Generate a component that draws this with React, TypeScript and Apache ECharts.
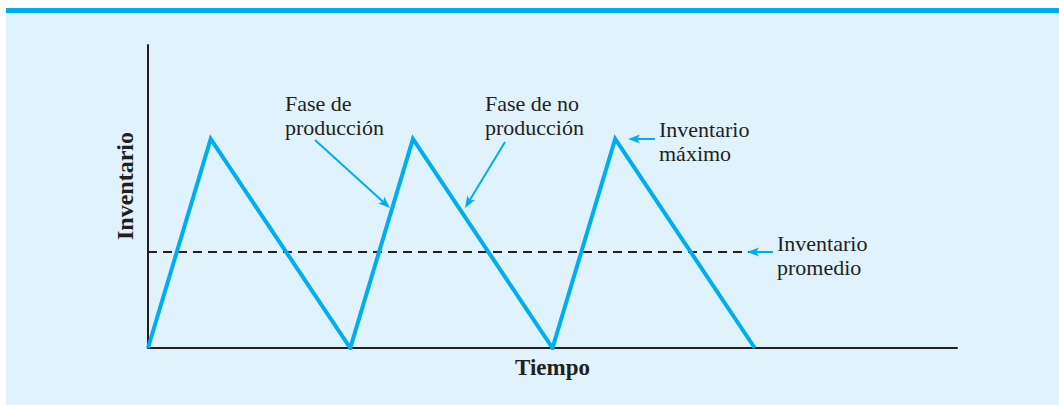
import React, { useEffect, useRef } from "react";
import * as echarts from "echarts";

// Sawtooth inventory profile (time, inventory)
const timePoints = [0, 0.31, 1, 1.31, 2, 2.31, 3];
const inventoryValues = [0, 6.9, 0, 6.9, 0, 6.9, 0];
const averageInventory = 3.17;
const averageLineEnd = 3.05;
const xMax = 4;
const yMax = 10;
const axisNames = { x: "Tiempo", y: "Inventario" };
const labels = {
  production: "Fase de\nproducción",
  noProduction: "Fase de no\nproducción",
  maxInv: "Inventario\nmáximo",
  avgInv: "Inventario\npromedio",
};

const BLUE = "#00aeef";
const BG = "#e0f2fc";
const INK = "#231f20";
const FONT = "Liberation Serif";

function arrow(x1: number, y1: number, x2: number, y2: number) {
  const ang = Math.atan2(y2 - y1, x2 - x1);
  const len = 12;
  const half = 4.5;
  const bx = x2 - len * Math.cos(ang);
  const by = y2 - len * Math.sin(ang);
  const px = -Math.sin(ang) * half;
  const py = Math.cos(ang) * half;
  return [
    {
      type: "line",
      shape: { x1, y1, x2: bx + 3 * Math.cos(ang), y2: by + 3 * Math.sin(ang) },
      style: { stroke: BLUE, lineWidth: 2 },
      z: 10,
    },
    {
      type: "polygon",
      shape: {
        points: [
          [x2, y2],
          [bx + px, by + py],
          [bx + 3 * Math.cos(ang), by + 3 * Math.sin(ang)],
          [bx - px, by - py],
        ],
      },
      style: { fill: BLUE },
      z: 10,
    },
  ];
}

function label(text: string, x: number, y: number) {
  return {
    type: "text",
    x,
    y,
    z: 10,
    style: {
      text,
      fontFamily: FONT,
      fontSize: 22,
      lineHeight: 24,
      fill: INK,
      verticalAlign: "top",
    },
  };
}

export default function App() {
  const ref = useRef<HTMLDivElement>(null);
  useEffect(() => {
    document.body.style.margin = "0";
    const chart = echarts.init(ref.current!, null, { renderer: "svg" });
    const lineData = timePoints.map((t, i) => [t, inventoryValues[i]]);
    chart.setOption({
      animation: false,
      grid: { left: 148, top: 45, right: 102, bottom: 57 },
      xAxis: {
        type: "value",
        min: 0,
        max: xMax,
        name: axisNames.x,
        nameLocation: "middle",
        nameGap: 8,
        nameTextStyle: { fontFamily: FONT, fontWeight: "bold", fontSize: 23, color: INK, verticalAlign: "top" },
        axisLine: { show: true, lineStyle: { color: INK, width: 2 } },
        axisTick: { show: false },
        axisLabel: { show: false },
        splitLine: { show: false },
      },
      yAxis: {
        type: "value",
        min: 0,
        max: yMax,
        axisLine: { show: true, lineStyle: { color: INK, width: 2 } },
        axisTick: { show: false },
        axisLabel: { show: false },
        splitLine: { show: false },
      },
      graphic: [
        { type: "rect", shape: { x: 6, y: 8, width: 1053, height: 397 }, style: { fill: BG }, z: -10 },
        { type: "rect", shape: { x: 6, y: 8, width: 1053, height: 5 }, style: { fill: BLUE }, z: -9 },
        {
          type: "text",
          x: 125,
          y: 186,
          rotation: Math.PI / 2,
          z: 10,
          style: {
            text: axisNames.y,
            fontFamily: FONT,
            fontWeight: "bold",
            fontSize: 24,
            fill: INK,
            align: "center",
            verticalAlign: "middle",
          },
        },
        label(labels.production, 285, 91),
        label(labels.noProduction, 485, 91),
        label(labels.maxInv, 659, 117),
        label(labels.avgInv, 777, 231),
        ...arrow(315, 140, 390, 208),
        ...arrow(505, 142, 465, 208),
        ...arrow(655, 139, 628, 139),
        ...arrow(773, 252, 747, 252),
      ],
      series: [
        {
          type: "line",
          data: [
            [0, averageInventory],
            [averageLineEnd, averageInventory],
          ],
          symbol: "none",
          lineStyle: { color: INK, width: 2, type: [9, 6] },
          z: 3,
        },
        {
          type: "line",
          data: lineData,
          symbol: "none",
          lineStyle: { color: BLUE, width: 4, join: "miter" },
          z: 4,
        },
      ],
    });
    return () => chart.dispose();
  }, []);
  return <div ref={ref} style={{ width: 1059, height: 405, background: "#fff" }} />;
}
